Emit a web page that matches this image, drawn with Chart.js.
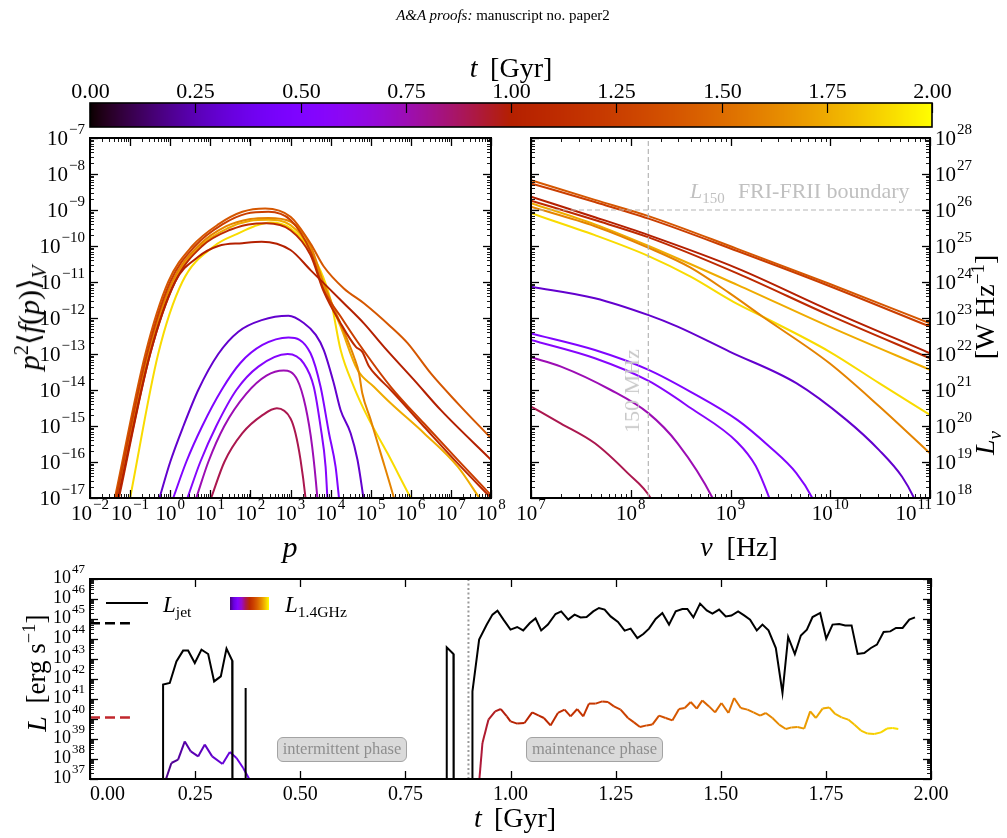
<!DOCTYPE html>
<html>
<head>
<meta charset="utf-8">
<title>spectra and luminosity</title>
<script src="https://cdn.jsdelivr.net/npm/chart.js@4.4.1/dist/chart.umd.min.js"></script>
<style>
  body { margin: 0; background: #fff; }
  #fig { position: relative; width: 1007px; height: 838px; overflow: hidden; background: #fff;
         font-family: "Liberation Serif", "DejaVu Serif", serif; color: #000; }
  #fig canvas { position: absolute; left: 0; top: 0; }
  .t { position: absolute; white-space: nowrap; transform: translate(-50%, -50%); line-height: 1; }
  .l { position: absolute; white-space: nowrap; transform: translate(0, -50%); line-height: 1; }
  .rot { transform: translate(-50%, -50%) rotate(-90deg); }
  sub, sup { font-size: 0.68em; line-height: 0; }
  .grey { color: #c0c0c0; }
  .phase { position: absolute; box-sizing: border-box; height: 25px; background: #dadada; border: 1.5px solid #a3a3a3;
           border-radius: 6px; color: #8e8e8e; font-size: 16.5px; text-align: center; line-height: 22px; white-space: nowrap; }
</style>
</head>
<body>
<div id="fig">
  <canvas id="cbar" width="1007" height="838"></canvas>
  <canvas id="specP" width="1007" height="838"></canvas>
  <canvas id="specNu" width="1007" height="838"></canvas>
  <canvas id="lumT" width="1007" height="838"></canvas>

  <div class="t" style="left:503px;top:15px;font-size:15px"><i>A&amp;A proofs:</i> manuscript no. paper2</div>
  <div class="t" style="left:511px;top:68px;font-size:28px"><i>t</i><span style="margin-left:0.45em">[Gyr]</span></div>

  <div class="t rot" style="left:29px;top:318px;font-size:30px"><i>p</i><sup>2</sup>⟨<i>f</i>(<i>p</i>)⟩<sub><i>V</i></sub></div>
  <div class="t" style="left:290px;top:547px;font-size:30px"><i>p</i></div>
  <div class="t" style="left:739px;top:547px;font-size:28px"><i>ν</i><span style="margin-left:0.5em">[Hz]</span></div>
  <div class="t rot" style="left:985px;top:307px;font-size:28px">[W Hz<sup>−1</sup>]</div>
  <div class="t rot" style="left:985px;top:443px;font-size:28px"><i>L</i><sub><i>ν</i></sub></div>

  <div class="l grey" style="left:690px;top:191px;font-size:22px"><i>L</i><sub>150</sub><span style="margin-left:0.6em">FRI-FRII boundary</span></div>
  <div class="t rot grey" style="left:632px;top:391px;font-size:22px;color:#c8c8c8">150 MHz</div>

  <div class="t rot" style="left:36px;top:659px;font-size:27px">[erg s<sup>−1</sup>]</div>
  <div class="t rot" style="left:37px;top:724px;font-size:28px"><i>L</i></div>
  <div class="t" style="left:478px;top:818px;font-size:28px"><i>t</i></div>
  <div class="t" style="left:525px;top:818px;font-size:28px">[Gyr]</div>

  <div style="position:absolute;left:106px;top:602px;width:42px;height:2px;background:#000"></div>
  <div class="l" style="left:163px;top:604px;font-size:23px"><i>L</i><sub>jet</sub></div>
  <div id="swatch" style="position:absolute;left:230px;top:597px;width:39px;height:13px"></div>
  <div class="l" style="left:285px;top:604px;font-size:23px"><i>L</i><sub>1.4GHz</sub></div>

  <div class="phase" style="left:277px;top:737px;width:130px">intermittent phase</div>
  <div class="phase" style="left:526px;top:737px;width:137px">maintenance phase</div>
</div>

<script>
const FONT = '"Liberation Serif", "DejaVu Serif", serif';

// snapshot times [Gyr] of the spectra (the line colour encodes the time)
const lowTimes = [0.3, 0.5, 0.55, 0.75, 0.9];
const highTimes = [1.0, 1.1, 1.25, 1.4, 1.6, 1.75, 1.9];

// left panel: [p, p^2 <f(p)>_V]
const fpT030 = [[0.54,1e-17],[1,1e-16],[2.14,1e-15],[5.01,1e-14],[15.8,1e-13],[50.1,4.17e-13],[191,8.71e-13],[891,1.15e-12],[2140,7.24e-13],[4270,3.39e-13],[6760,1.29e-13],[12000,1.55e-14],[17800,2.75e-15],[31600,6.31e-16],[46800,1.15e-16],[61700,1.66e-17],[67600,7.9e-18]];
const fpT050 = [[1.19,1e-17],[2.51,1e-16],[6.31,1e-15],[19.1,1e-14],[56.2,5.62e-14],[200,1.78e-13],[891,2.88e-13],[3160,1.05e-13],[5620,1.23e-14],[9120,6.31e-16],[13300,7.41e-17],[16200,1e-17],[17000,6.3e-18]];
const fpT055 = [[2.69,1e-17],[5.62,1e-16],[14.1,1e-15],[44.7,1e-14],[158,4.47e-14],[851,1e-13],[2140,5.5e-14],[3800,1.23e-14],[5620,9.55e-16],[7500,7.41e-17],[8320,1e-17],[8710,5e-18]];
const fpT075 = [[4.47,1e-17],[8.91,1e-16],[22.4,1e-15],[79.4,7.94e-15],[251,2.51e-14],[676,3.47e-14],[1480,1.91e-14],[2370,3.47e-15],[3470,2.69e-16],[4680,1e-17],[4900,5e-18]];
const fpT090 = [[10.5,1e-17],[22.4,1e-16],[63.1,6.31e-16],[200,2e-15],[457,3.09e-15],[1000,1.62e-15],[1330,6.31e-16],[1780,1.15e-16],[2370,1e-17],[2510,5e-18]];
const fpT100 = [[0.0501,1e-17],[0.316,1e-13],[1.32,1e-11],[5.01,5.01e-11],[15.8,1e-10],[63.1,1.2e-10],[191,1.32e-10],[1000,7.76e-11],[3160,2.14e-11],[21400,2.57e-12],[67600,7.08e-13],[214000,1.58e-13],[1.2e6,1.91e-14],[5.62e6,2.75e-15],[1e8,1.15e-16]];
const fpT110 = [[0.0525,1e-17],[0.316,1e-13],[1.32,1e-11],[6.31,1e-10],[31.6,2.82e-10],[126,4.17e-10],[251,4.27e-10],[1000,2.75e-10],[3160,5.62e-11],[6760,5.37e-12],[17800,7.08e-13],[42700,1.58e-13],[61700,1.15e-13],[91200,4.47e-14],[148000,2.34e-14],[316000,1e-14],[2.14e6,9.55e-16],[1.48e7,9.12e-17],[1e8,1e-17]];
const fpT125 = [[0.0447,1e-17],[0.263,1e-13],[1,1e-11],[4.17,1e-10],[20,3.98e-10],[79.4,7.94e-10],[282,8.91e-10],[1000,5.25e-10],[3160,7.08e-11],[6760,6.03e-12],[17800,1.1e-12],[46800,2.19e-13],[316000,1.23e-14],[2.14e6,1.17e-15],[1.48e7,1.15e-16],[1e8,1.2e-17]];
const fpT140 = [[0.0417,1e-17],[0.24,1e-13],[0.891,1e-11],[3.55,1e-10],[15.8,3.98e-10],[63.1,8.91e-10],[234,1.1e-9],[1000,6.46e-10],[3160,1.17e-10],[6760,2.69e-11],[21400,6.61e-12],[67600,2.57e-12],[316000,5.75e-13],[832000,2e-13],[3.16e6,2.88e-14],[1.48e7,4.27e-15],[1e8,4.57e-16]];
const fpT160 = [[0.0479,1e-17],[0.282,1e-13],[1.12,1e-11],[5.01,1e-10],[25.1,3.55e-10],[100,5.62e-10],[282,6.03e-10],[1000,4.79e-10],[3160,1e-10],[6760,9.12e-12],[14800,1.1e-12],[26300,2.45e-13],[38000,8.51e-14],[51300,2.88e-14],[61700,8.13e-15],[100000,1.48e-15],[178000,1.74e-16],[380000,1e-17],[447000,5e-18]];
const fpT175 = [[0.0501,1e-17],[0.302,1e-13],[1.2,1e-11],[5.62,1e-10],[28.2,3.16e-10],[100,5.01e-10],[282,5.37e-10],[1000,3.8e-10],[3160,7.94e-11],[6760,7.41e-12],[17800,5.75e-13],[46800,3.63e-14],[120000,1.23e-14],[316000,4.27e-15],[2.14e6,6.31e-16],[1.48e7,7.41e-17],[5.13e7,1e-17],[6.31e7,7.1e-18]];
const fpT190 = [[0.1,1e-17],[0.501,1e-13],[2,1e-11],[12.6,1e-10],[50.1,2.24e-10],[126,3.55e-10],[316,4.47e-10],[1000,3.09e-10],[3160,7.08e-11],[10000,3.16e-12],[17800,1.29e-13],[38000,1.23e-14],[83200,1.82e-15],[263000,1.74e-16],[1e6,1e-17],[1.26e6,6.3e-18]];

// right panel: [nu (Hz), L_nu (W/Hz)]
const lnT030 = [[1e7,7.41e23],[4.37e7,3.55e23],[1.51e8,1.2e23],[2.95e8,5.75e22],[9.77e8,1.17e22],[4.57e9,1.55e21],[1.45e10,1.48e20],[3.09e10,2.14e19],[5.25e10,3.89e18],[6.92e10,1e18],[7.94e10,4e17]];
const lnT050 = [[1e7,3.72e22],[4.37e7,1.29e22],[1.51e8,3.63e21],[3.98e8,8.91e20],[1.17e9,1.48e20],[2.45e9,2.69e19],[4.57e9,4.9e18],[6.61e9,1e18],[7.59e9,4e17]];
const lnT055 = [[1e7,2.45e22],[4.37e7,7.59e21],[1.51e8,1.78e21],[3.98e8,3.16e20],[1.17e9,3.55e19],[1.78e9,7.94e18],[2.45e9,1e18],[2.75e9,4e17]];
const lnT075 = [[1e7,8.13e21],[2e7,4.47e21],[6.31e7,1e21],[1.51e8,2.24e20],[2.95e8,3.31e19],[6.61e8,1e18],[7.59e8,4e17]];
const lnT090 = [[1e7,3.47e20],[2e7,1.17e20],[4.37e7,3.31e19],[9.33e7,4.9e18],[1.58e8,1e18],[1.82e8,4e17]];
const lnT100 = [[1e7,2.34e26],[4.37e7,6.31e25],[1.51e8,2e25],[1.17e9,2.4e24],[9.77e9,1.66e23],[1e11,1.05e22]];
const lnT110 = [[1e7,1.82e26],[4.37e7,5.25e25],[1.51e8,1.74e25],[1.17e9,1.74e24],[9.77e9,1.2e23],[1e11,7.59e21]];
const lnT125 = [[1e7,5.5e26],[4.37e7,1.66e26],[1.51e8,5.75e25],[1.17e9,7.24e24],[9.77e9,7.76e23],[1e11,5.75e22]];
const lnT140 = [[1e7,6.76e26],[4.37e7,1.91e26],[1.51e8,6.76e25],[1.17e9,8.32e24],[9.77e9,8.91e23],[1e11,7.08e22]];
const lnT160 = [[1e7,1.23e26],[4.37e7,3.55e25],[1.51e8,8.91e24],[3.98e8,2.51e24],[9.77e8,4.9e23],[2.09e9,1.1e23],[9.77e9,5.62e21],[3.09e10,3.55e20],[1e11,1.74e19]];
const lnT175 = [[1e7,1.55e26],[4.37e7,3.98e25],[1.51e8,1e25],[1.17e9,8.32e23],[9.77e9,5.75e22],[1e11,3.63e21]];
const lnT190 = [[1e7,8.13e25],[4.37e7,2e25],[1.51e8,5.25e24],[3.98e8,1.41e24],[1.07e9,2.82e23],[2.09e9,1.1e23],[9.77e9,1.17e22],[3.09e10,1.55e21],[1e11,2.04e20]];

// reference lines in the right panel
const nu150 = 1.5e8;
const lFrBoundary = 1e26;

// bottom panel: jet power (1e30 = jet off, below the axis)
const jetTime = [0.1738,0.1738,0.1897,0.2055,0.2214,0.2333,0.2492,0.2651,0.2810,0.2952,0.3111,0.3246,0.3381,0.3389,0.3698,0.3698,0.3705,0.8484,0.8484,0.8643,0.8650,0.9095,0.9095,0.9254,0.9436,0.9571,0.9690,0.9833,
  1.0000,1.0159,1.0302,1.0460,1.0595,1.0730,1.0889,1.1071,1.1206,1.1373,1.1524,1.1667,1.1810,1.1968,1.2103,1.2238,1.2381,1.2556,1.2714,1.2857,1.3016,1.3159,1.3294,1.3452,1.3611,1.3770,1.3929,1.4087,1.4206,1.4349,
  1.4508,1.4667,1.4802,1.4960,1.5119,1.5254,1.5413,1.5556,1.5698,1.5857,1.5992,1.6135,1.6310,1.6468,1.6603,1.6762,1.6905,1.7048,1.7183,1.7365,1.7508,1.7659,1.7817,1.7960,1.8111,1.8254,1.8413,1.8571,1.8714,1.8873,
  1.9032,1.9167,1.9325,1.9484,1.9619];
const jetPower = [1e30,5.25e41,6.31e41,7.59e42,2.63e43,2.63e43,6.31e42,2.95e43,1.78e43,7.59e41,1.35e42,3.31e43,8.32e42,1e30,1e30,3.55e41,1e30,1e30,3.8e43,1.78e43,1e30,1e30,2.4e41,9.33e43,5.25e44,1.66e45,2.63e45,9.33e44,
  2.95e44,3.98e44,2.69e44,6.31e44,1.07e45,2.69e44,5.25e44,1.78e45,2.4e45,9.33e44,1.66e45,1.2e45,1.26e45,2.4e45,3.55e45,2.95e45,1.35e45,7.08e44,2.63e44,3.31e44,1.12e44,1.78e44,3.31e44,1e45,2e45,5.25e44,2.4e45,3.16e45,3.16e45,1.2e45,
  5.89e45,2.69e45,1.86e45,2.95e45,1.35e45,1.48e45,2.4e45,1.51e45,9.33e44,2.69e44,5.25e44,2.69e44,3.55e43,2e41,1.26e44,1.78e43,1.51e44,2.95e44,1.26e45,2e45,1.05e44,5.25e44,5.62e44,4.79e44,4.79e44,1.78e43,2e43,3.55e43,5.25e43,2.24e44,
  2.4e44,3.55e44,3.55e44,9.33e44,1.2e45];

// bottom panel: 1.4 GHz luminosity
const radioTime = [0.1760,0.1936,0.2095,0.2254,0.2397,0.2571,0.2730,0.2905,0.3151,0.3325,0.3484,0.3643,0.3786,0.3860,0.3900,0.9200,0.9220,0.9333,0.9476,0.9635,0.9770,0.9913,
  1.0000,1.0159,1.0333,1.0516,1.0675,1.0794,1.0952,1.1127,1.1286,1.1429,1.1587,1.1730,1.1865,1.2024,1.2183,1.2317,1.2460,1.2619,1.2794,1.2937,1.3079,1.3238,1.3373,1.3532,1.3690,1.3849,
  1.4008,1.4143,1.4286,1.4429,1.4563,1.4722,1.4865,1.5016,1.5183,1.5317,1.5476,1.5635,1.5778,1.5937,1.6071,1.6230,1.6389,1.6548,1.6683,1.6825,1.6984,1.7127,1.7262,1.7421,1.7579,
  1.7722,1.7873,1.8032,1.8175,1.8333,1.8492,1.8651,1.8810,1.8952,1.9087,1.9222];
const radioLum = [5e36,6.31e37,9.33e37,7.59e38,2.4e38,1.35e38,5.25e38,1.35e38,5.62e37,2.24e38,1.12e38,3.55e37,1e37,3e36,1e30,1e30,1e36,6.31e38,9.33e39,2.4e40,3.16e40,1.35e40,
  7.59e39,5.89e39,6.31e39,2.14e40,1.48e40,1.12e40,4.79e39,2e40,2.95e40,1.35e40,3.16e40,1.35e40,5.89e40,5.89e40,7.59e40,7.08e40,4.27e40,2.95e40,1.12e40,6.76e39,3.98e39,4.79e39,5.25e39,1.48e40,1.12e40,8.51e39,
  3.16e40,3.55e40,7.08e40,3.31e40,8.51e40,4.27e40,2.14e40,6.31e40,2e40,1.12e41,3.55e40,2.95e40,2.14e40,1.48e40,2e40,1.12e40,5.25e39,3.16e39,3.8e39,3.98e39,3.31e39,2.4e40,1.12e40,3.31e40,3.8e40,
  1.78e40,1.2e40,9.33e39,5.25e39,2.63e39,1.86e39,1.78e39,2.14e39,3.31e39,3.55e39,3.16e39];

// short dashed reference levels at the left edge, and the phase boundary
const jetRef = 6.1e44;
const radioRef = 1.2e40;
const refSpan = [0, 0.095];
const phaseSplit = 0.9;

const timeTicks = [0, 0.25, 0.5, 0.75, 1.0, 1.25, 1.5, 1.75, 2.0];

// matplotlib "gnuplot" colour map, time range 0..2 Gyr
function cmap(v) {
    v = Math.min(1, Math.max(0, v));
    const r = Math.sqrt(v), g = v * v * v, b = Math.max(0, Math.sin(2 * Math.PI * v));
    return "rgb(" + Math.round(r * 255) + "," + Math.round(g * 255) + "," + Math.round(b * 255) + ")";
}
function colorAt(t) {
    return cmap(t / 2);
}

function toXY(pairs) {
    return pairs.map(function(p) { return { x: p[0], y: p[1] }; });
}
function zip(xs, ys) {
    return xs.map(function(x, i) { return { x: x, y: ys[i] }; });
}

function logValues(min, max) {
    const out = [];
    const e0 = Math.floor(Math.log10(min) + 1e-9), e1 = Math.ceil(Math.log10(max) - 1e-9);
    for (let e = e0; e <= e1; e++) {
        for (let k = 1; k <= 9; k++) {
            const v = k * Math.pow(10, e);
            if (v >= min * 0.999 && v <= max * 1.001) out.push({ v: v, major: k === 1, e: e });
        }
    }
    return out;
}

function seg(ctx, x1, y1, x2, y2, w) {
    ctx.lineWidth = w;
    ctx.beginPath();
    ctx.moveTo(x1, y1);
    ctx.lineTo(x2, y2);
    ctx.stroke();
}

// "10" with a raised exponent; y is the middle of the digits
function powLabel(ctx, exp, x, y, align, size, supSize, clampL, clampR) {
    const sup = exp < 0 ? "\u2212" + Math.abs(exp) : String(exp);
    ctx.font = size + "px " + FONT;
    const w1 = ctx.measureText("10").width;
    ctx.font = supSize + "px " + FONT;
    const w2 = ctx.measureText(sup).width;
    const w = w1 + w2 + 1;
    let x0 = align === "center" ? x - w / 2 : (align === "right" ? x - w : x);
    if (clampL != null && x0 < clampL) x0 = clampL;
    if (clampR != null && x0 + w > clampR) x0 = clampR - w;
    ctx.textAlign = "left";
    ctx.textBaseline = "alphabetic";
    ctx.font = size + "px " + FONT;
    ctx.fillText("10", x0, y + size * 0.33);
    ctx.font = supSize + "px " + FONT;
    ctx.fillText(sup, x0 + w1 + 1, y - size * 0.2);
}

function plainLabel(ctx, text, x, y, size, clampL) {
    ctx.font = size + "px " + FONT;
    const w = ctx.measureText(text).width;
    let x0 = x - w / 2;
    if (clampL != null && x0 < clampL) x0 = clampL;
    ctx.textAlign = "left";
    ctx.textBaseline = "alphabetic";
    ctx.fillText(text, x0, y + size * 0.33);
}

// frame, inward ticks on all four sides, tick labels
function drawFrame(chart, o) {
    const ctx = chart.ctx, a = chart.chartArea, xs = chart.scales.x, ys = chart.scales.y;
    ctx.save();
    ctx.strokeStyle = "#000";
    ctx.fillStyle = "#000";
    const xt = o.xTicks ? o.xTicks.map(function(v) { return { v: v, major: true }; }) : logValues(xs.min, xs.max);
    xt.forEach(function(t) {
        const px = Math.round(xs.getPixelForValue(t.v)) + 0.5;
        const len = t.major ? 8 : 4;
        seg(ctx, px, a.bottom, px, a.bottom - len, t.major ? 1.3 : 0.9);
        seg(ctx, px, a.top, px, a.top + len, t.major ? 1.3 : 0.9);
    });
    const yt = logValues(ys.min, ys.max);
    yt.forEach(function(t) {
        const py = Math.round(ys.getPixelForValue(t.v)) + 0.5;
        const len = t.major ? 8 : 4;
        seg(ctx, a.left, py, a.left + len, py, t.major ? 1.3 : 0.9);
        seg(ctx, a.right, py, a.right - len, py, t.major ? 1.3 : 0.9);
    });
    ctx.lineWidth = 2;
    ctx.strokeRect(a.left, a.top, a.right - a.left, a.bottom - a.top);

    xt.forEach(function(t) {
        if (!t.major) return;
        const px = xs.getPixelForValue(t.v);
        if (o.xTicks) {
            plainLabel(ctx, t.v.toFixed(2), px, o.xLabelY, o.xSize, a.left);
        } else {
            powLabel(ctx, t.e, px, o.xLabelY, "center", o.xSize, o.xSup, null, o.xClampRight);
        }
    });
    yt.forEach(function(t) {
        if (!t.major) return;
        const py = ys.getPixelForValue(t.v) + o.yShift;
        if (o.ySide === "left") {
            powLabel(ctx, t.e, a.left - 5, py, "right", o.ySize, o.ySup);
        } else {
            powLabel(ctx, t.e, a.right + 5, py, "left", o.ySize, o.ySup);
        }
    });
    ctx.restore();
}

function lineSet(data, color) {
    return {
        data: data,
        borderColor: color,
        borderWidth: 2,
        pointRadius: 0,
        fill: false,
        cubicInterpolationMode: "monotone"
    };
}

function baseOptions(padding, xScale, yScale) {
    return {
        responsive: false,
        animation: false,
        events: [],
        layout: { padding: padding },
        plugins: { legend: { display: false }, tooltip: { enabled: false } },
        elements: { point: { radius: 0 }, line: { capBezierPoints: false } },
        scales: { x: xScale, y: yScale }
    };
}

// ---- colour bar ----
new Chart(document.getElementById("cbar"), {
    type: "scatter",
    data: { datasets: [] },
    options: baseOptions({ left: 90, top: 103, right: 75, bottom: 711 },
        { type: "linear", min: 0, max: 2, display: false },
        { type: "linear", min: 0, max: 1, display: false }),
    plugins: [{
        id: "cbarPaint",
        afterDraw: function(chart) {
            const ctx = chart.ctx, a = chart.chartArea, xs = chart.scales.x;
            ctx.save();
            for (let px = Math.floor(a.left); px < a.right; px++) {
                ctx.fillStyle = colorAt(xs.getValueForPixel(px + 0.5));
                ctx.fillRect(px, a.top, 1, a.bottom - a.top);
            }
            ctx.strokeStyle = "#000";
            ctx.fillStyle = "#000";
            timeTicks.forEach(function(v) {
                const px = Math.round(xs.getPixelForValue(v)) + 0.5;
                seg(ctx, px, a.top, px, a.top + 10, 1.2);
                plainLabel(ctx, v.toFixed(2), px, 91, 22, null);
            });
            ctx.lineWidth = 1.6;
            ctx.strokeRect(a.left, a.top, a.right - a.left, a.bottom - a.top);
            ctx.restore();
        }
    }]
});

// ---- left panel: momentum spectra ----
const fpByTime = [
    [lowTimes[0], fpT030], [lowTimes[1], fpT050], [lowTimes[2], fpT055], [lowTimes[3], fpT075], [lowTimes[4], fpT090],
    [highTimes[0], fpT100], [highTimes[1], fpT110], [highTimes[2], fpT125], [highTimes[3], fpT140],
    [highTimes[4], fpT160], [highTimes[5], fpT175], [highTimes[6], fpT190]
];
new Chart(document.getElementById("specP"), {
    type: "line",
    data: { datasets: fpByTime.map(function(item) { return lineSet(toXY(item[1]), colorAt(item[0])); }) },
    options: baseOptions({ left: 90, top: 138, right: 516, bottom: 340 },
        { type: "logarithmic", min: 1e-2, max: 1e8, display: false },
        { type: "logarithmic", min: 1e-17, max: 1e-7, display: false }),
    plugins: [{
        id: "frameP",
        afterDatasetsDraw: function(chart) {
            drawFrame(chart, { xLabelY: 513, xSize: 21, xSup: 15, ySide: "left", ySize: 21, ySup: 15, yShift: 0 });
        }
    }]
});

// ---- right panel: radio spectra ----
const lnByTime = [
    [lowTimes[0], lnT030], [lowTimes[1], lnT050], [lowTimes[2], lnT055], [lowTimes[3], lnT075], [lowTimes[4], lnT090],
    [highTimes[0], lnT100], [highTimes[1], lnT110], [highTimes[2], lnT125], [highTimes[3], lnT140],
    [highTimes[4], lnT160], [highTimes[5], lnT175], [highTimes[6], lnT190]
];
const nuSets = [
    { data: [{ x: nu150, y: 1e18 }, { x: nu150, y: 1e28 }], borderColor: "#b5b5b5", borderWidth: 1.2, borderDash: [5, 3], pointRadius: 0, tension: 0 },
    { data: [{ x: 1e7, y: lFrBoundary }, { x: 1e11, y: lFrBoundary }], borderColor: "#b5b5b5", borderWidth: 1.2, borderDash: [5, 3], pointRadius: 0, tension: 0 }
].concat(lnByTime.map(function(item) { return lineSet(toXY(item[1]), colorAt(item[0])); }));
new Chart(document.getElementById("specNu"), {
    type: "line",
    data: { datasets: nuSets },
    options: baseOptions({ left: 531, top: 138, right: 77, bottom: 340 },
        { type: "logarithmic", min: 1e7, max: 1e11, display: false },
        { type: "logarithmic", min: 1e18, max: 1e28, display: false }),
    plugins: [{
        id: "frameNu",
        afterDatasetsDraw: function(chart) {
            drawFrame(chart, { xLabelY: 513, xSize: 21, xSup: 15, xClampRight: 932, ySide: "right", ySize: 21, ySup: 15, yShift: 0 });
        }
    }]
});

// ---- bottom panel: luminosity vs time ----
const tSets = [
    { data: [{ x: phaseSplit, y: 1e37 }, { x: phaseSplit, y: 1e47 }], borderColor: "#9a9a9a", borderWidth: 2, borderDash: [2, 2.5], pointRadius: 0, tension: 0 },
    { data: [{ x: refSpan[0], y: jetRef }, { x: refSpan[1], y: jetRef }], borderColor: "#000", borderWidth: 2.5, borderDash: [10, 5], pointRadius: 0, tension: 0 },
    { data: [{ x: refSpan[0], y: radioRef }, { x: refSpan[1], y: radioRef }], borderColor: "#c1272d", borderWidth: 2.5, borderDash: [10, 5], pointRadius: 0, tension: 0 },
    { data: zip(jetTime, jetPower), borderColor: "#000", borderWidth: 2, pointRadius: 0, tension: 0 },
    {
        data: zip(radioTime, radioLum), borderColor: colorAt(1), borderWidth: 2, pointRadius: 0, tension: 0,
        segment: { borderColor: function(c) { return colorAt((c.p0.parsed.x + c.p1.parsed.x) / 2); } }
    }
];
new Chart(document.getElementById("lumT"), {
    type: "line",
    data: { datasets: tSets },
    options: baseOptions({ left: 90, top: 579, right: 76, bottom: 59 },
        { type: "linear", min: 0, max: 2, display: false },
        { type: "logarithmic", min: 1e37, max: 1e47, display: false }),
    plugins: [{
        id: "frameT",
        afterDatasetsDraw: function(chart) {
            drawFrame(chart, { xTicks: timeTicks, xLabelY: 793, xSize: 20, ySide: "left", ySize: 18, ySup: 13, yShift: -2 });
        }
    }]
});

// small colour-bar swatch in the bottom legend
const swatchStops = [];
for (let i = 0; i <= 10; i++) {
    swatchStops.push(cmap(0.08 + i * 0.092) + " " + (i * 10) + "%");
}
document.getElementById("swatch").style.background = "linear-gradient(to right, " + swatchStops.join(", ") + ")";
</script>
</body>
</html>
